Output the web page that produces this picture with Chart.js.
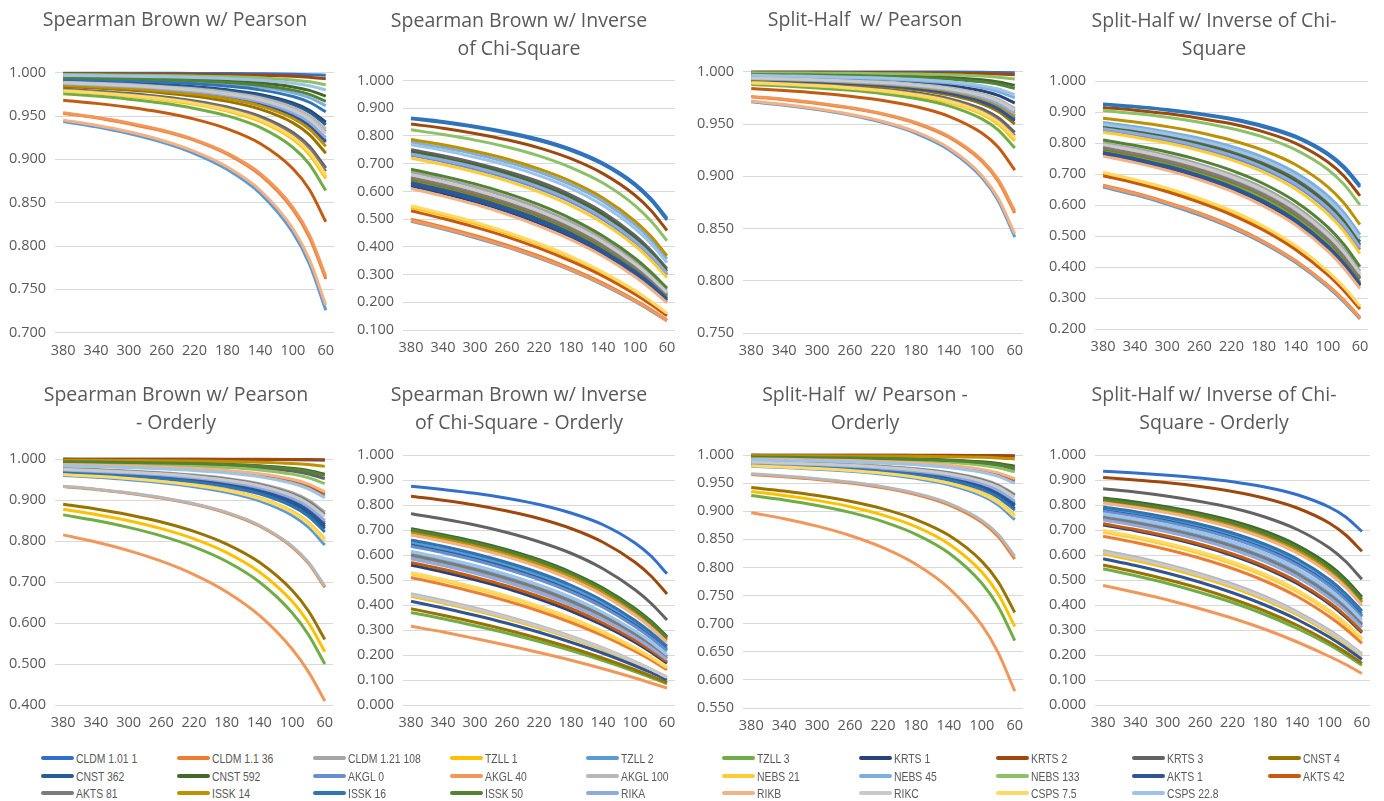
<!DOCTYPE html>
<html>
<head>
<meta charset="utf-8">
<script src="https://cdn.jsdelivr.net/npm/chart.js@4.4.1/dist/chart.umd.min.js"></script>
<style>
  html, body { margin: 0; padding: 0; background: #fff; }
  body { width: 1384px; height: 801px; position: relative; overflow: hidden; font-family: 'Open Sans', sans-serif; }
  .panel { position: absolute; }
  .panel-title { position: absolute; width: 400px; text-align: center; color: #595959; font-size: 19.5px;
    line-height: 27.6px; white-space: pre; }
  .legend-item { position: absolute; color: #595959; white-space: nowrap; font-size: 13.5px; line-height: 14px;
    font-family: 'Liberation Sans', Arial, sans-serif; }
  .legend-item .swatch { display: inline-block; width: 33px; height: 4px; border-radius: 2px; vertical-align: middle; margin-right: 2px; position: relative; top: -1px; }
  .legend-item .name { display: inline-block; transform: scaleX(0.77); transform-origin: left center; vertical-align: middle; }
</style>
</head>
<body>
<script>
// x positions (number of items) and the labels shown on the x axis
const itemCounts = [380, 340, 300, 260, 220, 180, 140, 100, 80, 60];
const tickLabels = [380, 340, 300, 260, 220, 180, 140, 100, 60];

const seriesNames = [
  'CLDM 1.01 1', 'CLDM 1.1 36', 'CLDM 1.21 108', 'TZLL 1', 'TZLL 2', 'TZLL 3', 'KRTS 1', 'KRTS 2', 'KRTS 3', 'CNST 4',
  'CNST 362', 'CNST 592', 'AKGL 0', 'AKGL 40', 'AKGL 100', 'NEBS 21', 'NEBS 45', 'NEBS 133', 'AKTS 1', 'AKTS 42',
  'AKTS 81', 'ISSK 14', 'ISSK 16', 'ISSK 50', 'RIKA', 'RIKB', 'RIKC', 'CSPS 7.5', 'CSPS 22.8'
];

const seriesColors = [
  '#3370CC', '#ED7D31', '#A5A5A5', '#FFC000', '#5B9BD5', '#70AD47', '#264478', '#9E480E', '#636363', '#997300',
  '#255E91', '#43682B', '#698ED0', '#F1975A', '#B7B7B7', '#FFCD33', '#7CAFDD', '#8CC168', '#2F5597', '#C55A11',
  '#7B7B7B', '#BF9000', '#2E75B6', '#548235', '#8FAADC', '#F4B183', '#C9C9C9', '#FFD966', '#9DC3E6'
];

// Spearman Brown w/ Pearson
const sbPearson = [
  [.9995,.9995,.9994,.9993,.9992,.9990,.9987,.9982,.9977,.997],
  [.953,.948,.941,.933,.922,.906,.882,.842,.810,.762],
  [.9886,.9873,.9856,.9834,.9805,.9763,.9697,.9581,.9481,.932],
  [.9785,.9761,.9730,.9689,.9635,.9557,.9438,.9231,.9056,.878],
  [.9438,.9376,.9298,.9199,.9067,.8883,.8608,.8154,.7794,.726],
  [.9758,.9730,.9695,.9650,.9588,.9502,.9368,.9137,.8944,.864],
  [.9905,.9894,.9881,.9862,.9838,.9802,.9748,.9650,.9566,.943],
  [.9989,.9988,.9986,.9984,.9981,.9977,.9970,.9958,.9947,.993],
  [.9809,.9787,.9759,.9723,.9674,.9604,.9497,.9310,.9151,.890],
  [.9841,.9822,.9799,.9769,.9728,.9670,.9579,.9421,.9286,.907],
  [.9900,.9889,.9874,.9855,.9829,.9792,.9734,.9631,.9543,.940],
  [.9956,.9951,.9945,.9936,.9925,.9908,.9883,.9836,.9796,.973],
  [.9868,.9853,.9834,.9809,.9775,.9726,.9650,.9517,.9403,.922],
  [.9537,.9486,.9421,.9338,.9227,.9071,.8837,.8444,.8128,.765],
  [.9891,.9879,.9863,.9842,.9814,.9774,.9711,.9600,.9504,.935],
  [.9789,.9765,.9735,.9695,.9642,.9565,.9448,.9244,.9072,.880],
  [.9938,.9931,.9922,.9910,.9893,.9870,.9834,.9769,.9712,.962],
  [.9978,.9975,.9972,.9967,.9961,.9953,.9940,.9916,.9895,.986],
  [.9865,.9849,.9829,.9803,.9768,.9718,.9641,.9504,.9387,.920],
  [.9682,.9646,.9601,.9543,.9464,.9352,.9183,.8892,.8652,.828],
  [.9801,.9778,.9749,.9712,.9661,.9589,.9477,.9284,.9120,.886],
  [.9855,.9839,.9818,.9790,.9753,.9700,.9617,.9472,.9349,.915],
  [.9926,.9918,.9907,.9892,.9873,.9845,.9802,.9725,.9659,.955],
  [.9946,.9940,.9932,.9922,.9908,.9888,.9856,.9799,.9750,.967],
  [.9874,.9859,.9840,.9816,.9784,.9737,.9664,.9536,.9427,.925],
  [.9453,.9393,.9318,.9221,.9092,.8912,.8644,.8199,.7846,.732],
  [.9883,.9869,.9852,.9829,.9799,.9755,.9688,.9568,.9466,.930],
  [.9793,.9769,.9739,.9701,.9648,.9573,.9458,.9257,.9088,.882],
  [.9968,.9964,.9959,.9953,.9945,.9932,.9913,.9879,.9849,.980]
];

// Spearman Brown w/ Inverse of Chi-Square
const sbChiSquare = [
  [.865,.852,.835,.814,.788,.752,.702,.628,.574,.503],
  [.500,.472,.441,.406,.367,.321,.269,.208,.174,.136],
  [.670,.645,.616,.581,.540,.490,.428,.348,.299,.243],
  [.543,.515,.484,.448,.408,.360,.304,.238,.200,.158],
  [.492,.464,.433,.399,.359,.315,.263,.203,.169,.133],
  [.640,.614,.584,.549,.507,.457,.396,.319,.272,.219],
  [.620,.593,.563,.528,.486,.436,.375,.300,.256,.205],
  [.843,.828,.809,.786,.757,.718,.664,.586,.531,.459],
  [.750,.729,.703,.672,.635,.587,.525,.441,.387,.321],
  [.645,.619,.589,.554,.513,.463,.401,.324,.277,.223],
  [.632,.606,.576,.540,.499,.449,.387,.311,.266,.213],
  [.742,.720,.694,.663,.625,.577,.515,.431,.377,.312],
  [.730,.708,.681,.649,.610,.562,.499,.416,.363,.299],
  [.495,.467,.436,.401,.362,.317,.265,.205,.171,.134],
  [.655,.630,.600,.565,.524,.474,.412,.333,.286,.231],
  [.720,.697,.670,.638,.598,.549,.486,.404,.351,.289],
  [.778,.758,.735,.706,.670,.624,.564,.480,.425,.356],
  [.822,.805,.785,.760,.728,.686,.630,.549,.493,.422],
  [.625,.599,.568,.533,.491,.441,.380,.305,.260,.208],
  [.530,.502,.471,.436,.395,.348,.294,.229,.192,.151],
  [.650,.624,.595,.560,.518,.468,.406,.328,.281,.227],
  [.787,.768,.745,.717,.681,.636,.576,.493,.438,.368],
  [.862,.848,.831,.810,.783,.747,.697,.622,.568,.497],
  [.680,.655,.627,.593,.552,.502,.439,.359,.309,.251],
  [.735,.713,.687,.655,.616,.568,.505,.422,.369,.305],
  [.610,.583,.553,.517,.475,.426,.366,.292,.248,.198],
  [.660,.635,.605,.570,.529,.479,.417,.338,.290,.235],
  [.548,.520,.489,.453,.412,.365,.309,.242,.203,.161],
  [.768,.748,.723,.694,.657,.611,.549,.466,.411,.343]
];

// Split-Half w/ Pearson
const shPearson = [
  [.9998,.9998,.9998,.9998,.9997,.9997,.9996,.9994,.9992,.999],
  [.9760,.9732,.9697,.9652,.9592,.9506,.9373,.9144,.8952,.865],
  [.9941,.9934,.9926,.9915,.9899,.9877,.9842,.9781,.9727,.964],
  [.9890,.9877,.9861,.9840,.9811,.9770,.9706,.9594,.9496,.934],
  [.9712,.9680,.9638,.9585,.9513,.9411,.9255,.8989,.8766,.842],
  [.9877,.9863,.9845,.9822,.9790,.9744,.9674,.9549,.9442,.927],
  [.9951,.9946,.9939,.9929,.9916,.9898,.9869,.9818,.9773,.970],
  [.9995,.9995,.9994,.9993,.9992,.9990,.9987,.9982,.9977,.997],
  [.9904,.9893,.9878,.9860,.9835,.9799,.9743,.9644,.9559,.942],
  [.9918,.9908,.9896,.9880,.9859,.9828,.9779,.9694,.9620,.950],
  [.9926,.9918,.9907,.9892,.9873,.9845,.9802,.9725,.9659,.955],
  [.9979,.9977,.9974,.9970,.9964,.9956,.9944,.9922,.9902,.987],
  [.9930,.9922,.9911,.9898,.9879,.9852,.9811,.9737,.9674,.957],
  [.9764,.9736,.9702,.9658,.9598,.9514,.9383,.9157,.8968,.867],
  [.9943,.9936,.9928,.9917,.9902,.9881,.9847,.9787,.9735,.965],
  [.9891,.9879,.9863,.9842,.9814,.9774,.9711,.9600,.9504,.935],
  [.9960,.9955,.9949,.9941,.9931,.9915,.9891,.9849,.9811,.975],
  [.9989,.9988,.9986,.9984,.9981,.9977,.9970,.9958,.9947,.993],
  [.9923,.9914,.9902,.9887,.9867,.9838,.9793,.9713,.9643,.953],
  [.9839,.9820,.9797,.9766,.9725,.9666,.9574,.9414,.9278,.906],
  [.9898,.9887,.9872,.9852,.9826,.9788,.9729,.9625,.9535,.939],
  [.9931,.9923,.9913,.9900,.9882,.9856,.9816,.9744,.9682,.958],
  [.9938,.9931,.9922,.9910,.9893,.9870,.9834,.9769,.9712,.962],
  [.9974,.9971,.9968,.9963,.9956,.9946,.9931,.9903,.9880,.984],
  [.9935,.9927,.9917,.9905,.9888,.9863,.9825,.9756,.9697,.960],
  [.9719,.9687,.9646,.9594,.9524,.9424,.9271,.9009,.8790,.845],
  [.9940,.9933,.9924,.9912,.9896,.9874,.9838,.9775,.9720,.963],
  [.9895,.9883,.9867,.9847,.9820,.9781,.9720,.9612,.9520,.937],
  [.9965,.9960,.9955,.9948,.9939,.9926,.9904,.9867,.9834,.978]
];

// Split-Half w/ Inverse of Chi-Square
const shChiSquare = [
  [.926,.918,.908,.895,.879,.856,.822,.767,.725,.664],
  [.664,.639,.609,.575,.534,.483,.421,.342,.294,.238],
  [.800,.782,.760,.732,.698,.655,.596,.513,.457,.387],
  [.702,.678,.650,.617,.577,.527,.465,.383,.332,.271],
  [.658,.633,.603,.568,.527,.477,.415,.336,.288,.233],
  [.775,.755,.731,.702,.666,.620,.559,.476,.420,.352],
  [.765,.744,.720,.690,.653,.607,.545,.461,.407,.340],
  [.915,.906,.895,.880,.862,.836,.799,.739,.694,.630],
  [.855,.841,.823,.801,.773,.736,.685,.608,.554,.482],
  [.782,.762,.739,.710,.675,.630,.569,.486,.430,.362],
  [.770,.750,.726,.696,.660,.613,.552,.468,.413,.346],
  [.850,.835,.817,.795,.766,.729,.676,.599,.544,.472],
  [.842,.827,.808,.785,.755,.716,.663,.584,.529,.457],
  [.662,.637,.607,.573,.531,.481,.419,.340,.292,.236],
  [.790,.771,.748,.720,.685,.641,.581,.497,.442,.373],
  [.835,.819,.800,.776,.746,.706,.651,.571,.516,.444],
  [.866,.853,.836,.816,.789,.754,.704,.630,.576,.505],
  [.905,.895,.883,.867,.847,.819,.778,.715,.667,.601],
  [.768,.748,.723,.694,.657,.611,.549,.466,.411,.343],
  [.695,.671,.643,.609,.569,.519,.456,.375,.324,.265],
  [.785,.766,.742,.714,.679,.634,.574,.490,.435,.366],
  [.880,.868,.853,.834,.809,.776,.730,.659,.607,.537],
  [.924,.916,.906,.893,.876,.852,.818,.762,.719,.658],
  [.810,.792,.771,.745,.712,.669,.611,.529,.473,.402],
  [.846,.831,.813,.790,.761,.722,.669,.591,.536,.465],
  [.758,.737,.712,.682,.645,.597,.536,.452,.397,.331],
  [.795,.776,.754,.726,.692,.648,.588,.505,.449,.380],
  [.706,.682,.655,.622,.582,.532,.469,.387,.336,.275],
  [.860,.846,.829,.808,.781,.744,.694,.618,.564,.492]
];

// Spearman Brown w/ Pearson - Orderly
const sbPearsonOrderly = [
  [.9995,.9995,.9994,.9993,.9992,.9990,.9987,.9982,.9977,.997],
  [.9329,.9256,.9165,.9049,.8895,.8682,.8366,.7853,.7453,.687],
  [.9770,.9743,.9710,.9667,.9608,.9526,.9398,.9177,.8992,.870],
  [.8772,.8647,.8494,.8301,.8053,.7718,.7245,.6528,.6005,.530],
  [.9597,.9552,.9495,.9422,.9324,.9186,.8977,.8625,.8337,.790],
  [.8637,.8500,.8333,.8125,.7858,.7500,.7001,.6251,.5714,.500],
  [.9697,.9663,.9620,.9564,.9489,.9382,.9219,.8940,.8709,.835],
  [.9997,.9996,.9996,.9995,.9995,.9993,.9991,.9988,.9985,.998],
  [.9921,.9912,.9900,.9885,.9864,.9835,.9789,.9706,.9636,.952],
  [.8896,.8783,.8642,.8465,.8236,.7925,.7480,.6797,.6292,.560],
  [.9687,.9651,.9607,.9549,.9471,.9361,.9193,.8906,.8668,.830],
  [.9940,.9933,.9924,.9912,.9896,.9874,.9838,.9775,.9720,.963],
  [.9719,.9687,.9646,.9594,.9524,.9424,.9271,.9009,.8790,.845],
  [.8149,.7975,.7765,.7507,.7181,.6758,.6185,.5366,.4809,.410],
  [.9338,.9265,.9176,.9061,.8909,.8698,.8385,.7877,.7480,.690],
  [.9632,.9590,.9538,.9471,.9380,.9253,.9059,.8731,.8462,.805],
  [.9846,.9829,.9806,.9777,.9737,.9681,.9593,.9440,.9309,.910],
  [.9900,.9889,.9874,.9855,.9829,.9792,.9734,.9631,.9543,.940],
  [.9708,.9675,.9633,.9579,.9506,.9403,.9245,.8974,.8750,.840],
  [.9855,.9839,.9818,.9790,.9753,.9700,.9617,.9472,.9349,.915],
  [.9760,.9732,.9697,.9652,.9592,.9506,.9373,.9144,.8952,.865],
  [.9971,.9968,.9963,.9958,.9950,.9939,.9922,.9891,.9864,.982],
  [.9669,.9632,.9585,.9524,.9442,.9327,.9151,.8850,.8603,.822],
  [.9935,.9927,.9917,.9905,.9888,.9863,.9825,.9756,.9697,.960],
  [.9729,.9698,.9659,.9609,.9541,.9444,.9297,.9043,.8831,.850],
  [.9865,.9849,.9829,.9803,.9768,.9718,.9641,.9504,.9387,.920],
  [.9749,.9721,.9685,.9638,.9575,.9485,.9348,.9111,.8911,.860],
  [.9620,.9578,.9524,.9454,.9362,.9231,.9032,.8696,.8420,.800],
  [.9837,.9818,.9794,.9763,.9722,.9662,.9569,.9407,.9270,.905]
];

// Spearman Brown w/ Inverse of Chi-Square - Orderly
const sbChiSquareOrderly = [
  [.875,.862,.847,.827,.802,.768,.721,.648,.596,.525],
  [.510,.482,.451,.416,.376,.330,.277,.215,.180,.141],
  [.590,.563,.532,.496,.454,.405,.346,.275,.232,.185],
  [.435,.408,.378,.345,.308,.267,.221,.168,.139,.108],
  [.650,.624,.595,.560,.518,.468,.406,.328,.281,.227],
  [.370,.345,.317,.287,.254,.218,.178,.134,.110,.085],
  [.560,.532,.501,.466,.424,.376,.319,.251,.211,.167],
  [.835,.819,.800,.776,.746,.706,.651,.571,.516,.444],
  [.765,.744,.720,.690,.653,.607,.545,.461,.407,.340],
  [.385,.359,.331,.300,.266,.229,.187,.141,.116,.090],
  [.640,.614,.584,.549,.507,.457,.396,.319,.272,.219],
  [.705,.681,.654,.621,.581,.531,.468,.386,.335,.274],
  [.635,.609,.579,.543,.502,.452,.391,.314,.268,.216],
  [.315,.292,.266,.239,.210,.179,.145,.108,.088,.068],
  [.445,.418,.388,.354,.317,.275,.228,.174,.144,.112],
  [.525,.497,.466,.431,.390,.344,.289,.225,.189,.149],
  [.605,.578,.548,.512,.470,.421,.361,.287,.244,.195],
  [.695,.671,.643,.609,.569,.519,.456,.375,.324,.265],
  [.415,.388,.359,.327,.291,.251,.207,.157,.130,.101],
  [.570,.543,.511,.476,.434,.386,.328,.259,.218,.173],
  [.600,.573,.542,.506,.465,.415,.356,.283,.240,.192],
  [.690,.666,.637,.604,.563,.513,.451,.369,.319,.260],
  [.660,.635,.605,.570,.529,.479,.417,.338,.290,.235],
  [.700,.676,.648,.615,.575,.525,.462,.380,.329,.269],
  [.585,.558,.527,.491,.449,.400,.342,.271,.229,.182],
  [.680,.655,.627,.593,.552,.502,.439,.359,.309,.251],
  [.440,.413,.383,.350,.313,.271,.225,.171,.142,.110],
  [.530,.502,.471,.436,.395,.348,.294,.229,.192,.151],
  [.615,.588,.558,.522,.480,.431,.370,.296,.252,.201]
];

// Split-Half w/ Pearson - Orderly
const shPearsonOrderly = [
  [.9997,.9996,.9996,.9995,.9995,.9993,.9991,.9988,.9985,.998],
  [.9654,.9615,.9566,.9502,.9417,.9297,.9113,.8802,.8545,.815],
  [.9883,.9869,.9852,.9829,.9799,.9755,.9688,.9568,.9466,.930],
  [.9352,.9281,.9193,.9080,.8931,.8724,.8416,.7917,.7522,.695],
  [.9799,.9776,.9747,.9709,.9658,.9585,.9472,.9277,.9112,.885],
  [.9278,.9200,.9103,.8979,.8816,.8590,.8257,.7719,.7302,.670],
  [.9846,.9829,.9806,.9777,.9737,.9681,.9593,.9440,.9309,.910],
  [.9998,.9997,.9997,.9997,.9996,.9995,.9994,.9991,.9989,.9985],
  [.9956,.9951,.9945,.9936,.9925,.9908,.9883,.9836,.9796,.973],
  [.9421,.9358,.9278,.9176,.9041,.8852,.8571,.8108,.7742,.720],
  [.9837,.9818,.9794,.9763,.9722,.9662,.9569,.9407,.9270,.905],
  [.9968,.9964,.9959,.9953,.9945,.9932,.9913,.9879,.9849,.980],
  [.9855,.9839,.9818,.9790,.9753,.9700,.9617,.9472,.9349,.915],
  [.8974,.8867,.8735,.8568,.8351,.8056,.7631,.6972,.6480,.580],
  [.9665,.9627,.9579,.9518,.9435,.9318,.9140,.8836,.8586,.820],
  [.9814,.9793,.9766,.9731,.9684,.9616,.9511,.9330,.9175,.893],
  [.9921,.9912,.9900,.9885,.9864,.9835,.9789,.9706,.9636,.952],
  [.9951,.9946,.9939,.9929,.9916,.9898,.9869,.9818,.9773,.970],
  [.9850,.9833,.9811,.9782,.9744,.9688,.9603,.9453,.9325,.912],
  [.9926,.9918,.9907,.9892,.9873,.9845,.9802,.9725,.9659,.955],
  [.9879,.9865,.9847,.9824,.9793,.9748,.9678,.9555,.9450,.928],
  [.9989,.9988,.9986,.9984,.9981,.9977,.9970,.9958,.9947,.993],
  [.9831,.9812,.9787,.9755,.9712,.9651,.9555,.9388,.9246,.902],
  [.9963,.9959,.9953,.9946,.9936,.9922,.9900,.9861,.9826,.977],
  [.9861,.9845,.9825,.9798,.9762,.9711,.9631,.9491,.9372,.918],
  [.9931,.9923,.9913,.9900,.9882,.9856,.9816,.9744,.9682,.958],
  [.9874,.9859,.9840,.9816,.9784,.9737,.9664,.9536,.9427,.925],
  [.9809,.9787,.9759,.9723,.9674,.9604,.9497,.9310,.9151,.890],
  [.9918,.9908,.9896,.9880,.9859,.9828,.9779,.9694,.9620,.950]
];

// Split-Half w/ Inverse of Chi-Square - Orderly
const shChiSquareOrderly = [
  [.935,.928,.919,.908,.893,.872,.841,.791,.752,.694],
  [.675,.650,.621,.587,.546,.496,.434,.353,.304,.247],
  [.745,.723,.698,.667,.629,.581,.518,.435,.381,.316],
  [.605,.578,.548,.512,.470,.421,.361,.287,.244,.195],
  [.785,.766,.742,.714,.679,.634,.574,.490,.435,.366],
  [.545,.517,.486,.450,.410,.362,.306,.240,.201,.159],
  [.720,.697,.670,.638,.598,.549,.486,.404,.351,.289],
  [.910,.900,.889,.874,.854,.827,.788,.727,.680,.615],
  [.865,.852,.835,.814,.788,.752,.702,.628,.574,.503],
  [.560,.532,.501,.466,.424,.376,.319,.251,.211,.167],
  [.778,.758,.735,.706,.670,.624,.564,.480,.425,.356],
  [.828,.812,.792,.767,.736,.695,.639,.559,.503,.432],
  [.775,.755,.731,.702,.666,.620,.559,.476,.420,.352],
  [.478,.450,.420,.385,.347,.303,.252,.194,.162,.126],
  [.618,.592,.561,.525,.484,.434,.373,.299,.254,.204],
  [.692,.668,.640,.606,.565,.516,.453,.372,.321,.262],
  [.755,.734,.709,.678,.641,.593,.532,.448,.393,.327],
  [.818,.801,.780,.755,.722,.680,.623,.542,.486,.415],
  [.585,.558,.527,.491,.449,.400,.342,.271,.229,.182],
  [.725,.702,.675,.643,.604,.555,.493,.410,.357,.294],
  [.750,.729,.703,.672,.635,.587,.525,.441,.387,.321],
  [.815,.798,.777,.751,.718,.676,.619,.537,.481,.410],
  [.792,.773,.750,.723,.688,.643,.584,.501,.445,.376],
  [.822,.805,.785,.760,.728,.686,.630,.549,.493,.422],
  [.740,.718,.692,.661,.622,.574,.512,.428,.375,.310],
  [.808,.790,.769,.742,.709,.666,.608,.526,.470,.399],
  [.612,.585,.555,.519,.477,.428,.367,.293,.249,.199],
  [.698,.674,.646,.613,.572,.523,.460,.378,.327,.267],
  [.765,.744,.720,.690,.653,.607,.545,.461,.407,.340]
];

// panel layout: box = [left, top, width, height], area = plot [left, top, right, bottom] in page px,
// titleX = horizontal centre of the title inside the box
const panels = [
  { title: ['Spearman Brown w/ Pearson'], data: sbPearson, yMin: 0.7, yMax: 1, step: 0.05,
    box: [0, 0, 345, 365], area: [55, 72.7, 334, 332.7], titleTop: 5, titleX: 175 },
  { title: ['Spearman Brown w/ Inverse', 'of Chi-Square'], data: sbChiSquare, yMin: 0.1, yMax: 1, step: 0.1,
    box: [345, 0, 345, 365], area: [403, 80.5, 675, 330], titleTop: 6, titleX: 174 },
  { title: ['Split-Half  w/ Pearson'], data: shPearson, yMin: 0.75, yMax: 1, step: 0.05,
    box: [690, 0, 345, 365], area: [743, 71.7, 1023, 333.3], titleTop: 5, titleX: 175 },
  { title: ['Split-Half w/ Inverse of Chi-', 'Square'], data: shChiSquare, yMin: 0.2, yMax: 1, step: 0.1,
    box: [1035, 0, 349, 365], area: [1095, 81, 1368, 329.3], titleTop: 6, titleX: 179 },
  { title: ['Spearman Brown w/ Pearson', '- Orderly'], data: sbPearsonOrderly, yMin: 0.4, yMax: 1, step: 0.1,
    box: [0, 365, 345, 370], area: [55, 459, 333, 705], titleTop: 15, titleX: 176 },
  { title: ['Spearman Brown w/ Inverse', 'of Chi-Square - Orderly'], data: sbChiSquareOrderly, yMin: 0, yMax: 1, step: 0.1,
    box: [345, 365, 345, 370], area: [403, 455, 675, 705], titleTop: 15, titleX: 174 },
  { title: ['Split-Half  w/ Pearson -', 'Orderly'], data: shPearsonOrderly, yMin: 0.55, yMax: 1, step: 0.05,
    box: [690, 365, 345, 370], area: [743, 455, 1023, 708], titleTop: 15, titleX: 175 },
  { title: ['Split-Half w/ Inverse of Chi-', 'Square - Orderly'], data: shChiSquareOrderly, yMin: 0, yMax: 1, step: 0.1,
    box: [1035, 365, 349, 370], area: [1095, 455, 1370, 705], titleTop: 15, titleX: 179 }
];

const TICK_SIZE = 14.5;
const TEXT_GREY = '#595959';

Chart.defaults.font.family = "'Open Sans', sans-serif";

function buildPanel(p) {
  const [x, y, w, h] = p.box;
  const [l, t, r, b] = p.area;

  const wrap = document.createElement('div');
  wrap.className = 'panel';
  wrap.style.left = x + 'px';
  wrap.style.top = y + 'px';
  wrap.style.width = w + 'px';
  wrap.style.height = h + 'px';
  const canvas = document.createElement('canvas');
  canvas.width = w;
  canvas.height = h;
  wrap.appendChild(canvas);
  document.body.appendChild(wrap);

  // title as text above the plot, centred where the original has it
  const title = document.createElement('div');
  title.className = 'panel-title';
  title.style.left = (x + p.titleX - 200) + 'px';
  title.style.top = (y + p.titleTop) + 'px';
  title.textContent = p.title.join('\n');
  document.body.appendChild(title);

  return new Chart(canvas, {
    type: 'line',
    data: {
      datasets: p.data.map((vals, i) => ({
        label: seriesNames[i],
        data: itemCounts.map((n, k) => ({ x: n, y: vals[k] })),
        borderColor: seriesColors[i],
        backgroundColor: seriesColors[i],
        borderWidth: 3,
        pointRadius: 0,
        cubicInterpolationMode: 'monotone',
        order: -i,   // later series drawn on top, like the original
        clip: false
      }))
    },
    options: {
      responsive: false,
      animation: false,
      devicePixelRatio: 1,
      layout: { padding: { left: 0, right: x + w - r, top: t - y, bottom: 0 } },
      plugins: {
        legend: { display: false },
        tooltip: { enabled: false },
        title: { display: false }
      },
      scales: {
        x: {
          type: 'linear',
          reverse: true,
          min: 50,
          max: 390,
          grid: { display: false, drawTicks: false },
          border: { display: false },
          afterBuildTicks: axis => { axis.ticks = tickLabels.map(v => ({ value: v })); },
          afterFit: axis => { axis.height = y + h - b; },
          ticks: { color: TEXT_GREY, font: { size: TICK_SIZE }, padding: 9, autoSkip: false, maxRotation: 0 }
        },
        y: {
          min: p.yMin,
          max: p.yMax,
          grid: { color: '#d9d9d9', drawTicks: false },
          border: { display: false },
          afterFit: axis => { axis.width = l - x; },
          ticks: { stepSize: p.step, color: TEXT_GREY, font: { size: TICK_SIZE }, padding: 9,
                   callback: v => v.toFixed(3) }
        }
      }
    }
  });
}

panels.forEach(buildPanel);

// shared legend, 10 per row
const legendCols = [41, 177, 313, 450, 586, 722, 859, 996, 1132, 1268];
const legendRows = [759, 776.5, 793.5];
seriesNames.forEach((name, i) => {
  const item = document.createElement('div');
  item.className = 'legend-item';
  item.style.left = legendCols[i % 10] + 'px';
  item.style.top = (legendRows[Math.floor(i / 10)] - 7) + 'px';
  const sw = document.createElement('span');
  sw.className = 'swatch';
  sw.style.background = seriesColors[i];
  const label = document.createElement('span');
  label.className = 'name';
  label.textContent = name;
  item.appendChild(sw);
  item.appendChild(label);
  document.body.appendChild(item);
});
</script>
</body>
</html>
